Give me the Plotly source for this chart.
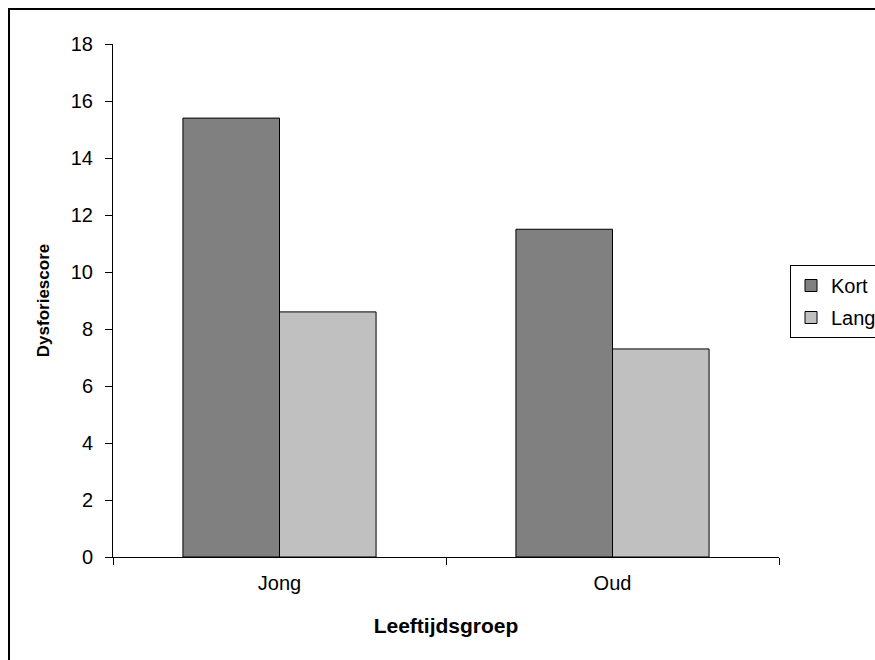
import plotly.graph_objects as go

# Dysforiescore per leeftijdsgroep, kort vs. lang
groepen = ["Jong", "Oud"]
kort = [15.4, 11.5]
lang = [8.6, 7.3]
y_ticks = [0, 2, 4, 6, 8, 10, 12, 14, 16, 18]

fig = go.Figure()
fig.add_trace(go.Bar(
    name="Kort", x=groepen, y=kort, legendgroup="kort",
    marker=dict(color="#808080", line=dict(color="black", width=1)),
))
fig.add_trace(go.Bar(
    name="Lang", x=groepen, y=lang, legendgroup="lang",
    marker=dict(color="#C0C0C0", line=dict(color="black", width=1)),
))

font_family = "Liberation Sans, Arial, sans-serif"

fig.update_layout(
    width=875, height=660,
    margin=dict(l=113, r=96, t=44, b=103),
    paper_bgcolor="white", plot_bgcolor="white",
    barmode="group", bargap=0.42, bargroupgap=0,
    font=dict(family=font_family, size=20, color="black"),
    showlegend=True,
    legend=dict(
        xref="container", yref="container",
        x=790 / 875, y=1 - 265 / 660, xanchor="left", yanchor="top",
        bgcolor="white", bordercolor="black", borderwidth=1,
        font=dict(size=20), tracegroupgap=3, itemwidth=30,
    ),
)

fig.update_xaxes(
    type="category", showline=True, linecolor="black", linewidth=1,
    ticks="outside", tickson="boundaries", ticklen=7, tickcolor="black",
    ticklabelstandoff=8,
    showgrid=False, zeroline=False,
    title=dict(text="<b>Leeftijdsgroep</b>", font=dict(size=21), standoff=25),
)
fig.update_yaxes(
    range=[0, 18], tickvals=y_ticks, showline=True, linecolor="black", linewidth=1,
    ticks="outside", ticklen=7, tickcolor="black",
    ticklabelstandoff=8,
    showgrid=False, zeroline=False,
    title=dict(text="<b>Dysforiescore</b>", font=dict(size=17), standoff=16),
)

# chart-area border around the whole figure
fig.add_shape(
    type="rect", xref="paper", yref="paper",
    x0=(9 - 113) / 666, x1=(885 - 113) / 666,
    y0=(557 - 670) / 513, y1=(557 - 9) / 513,
    line=dict(color="black", width=2), fillcolor="rgba(0,0,0,0)", layer="below",
)

fig.write_html("out.html")
